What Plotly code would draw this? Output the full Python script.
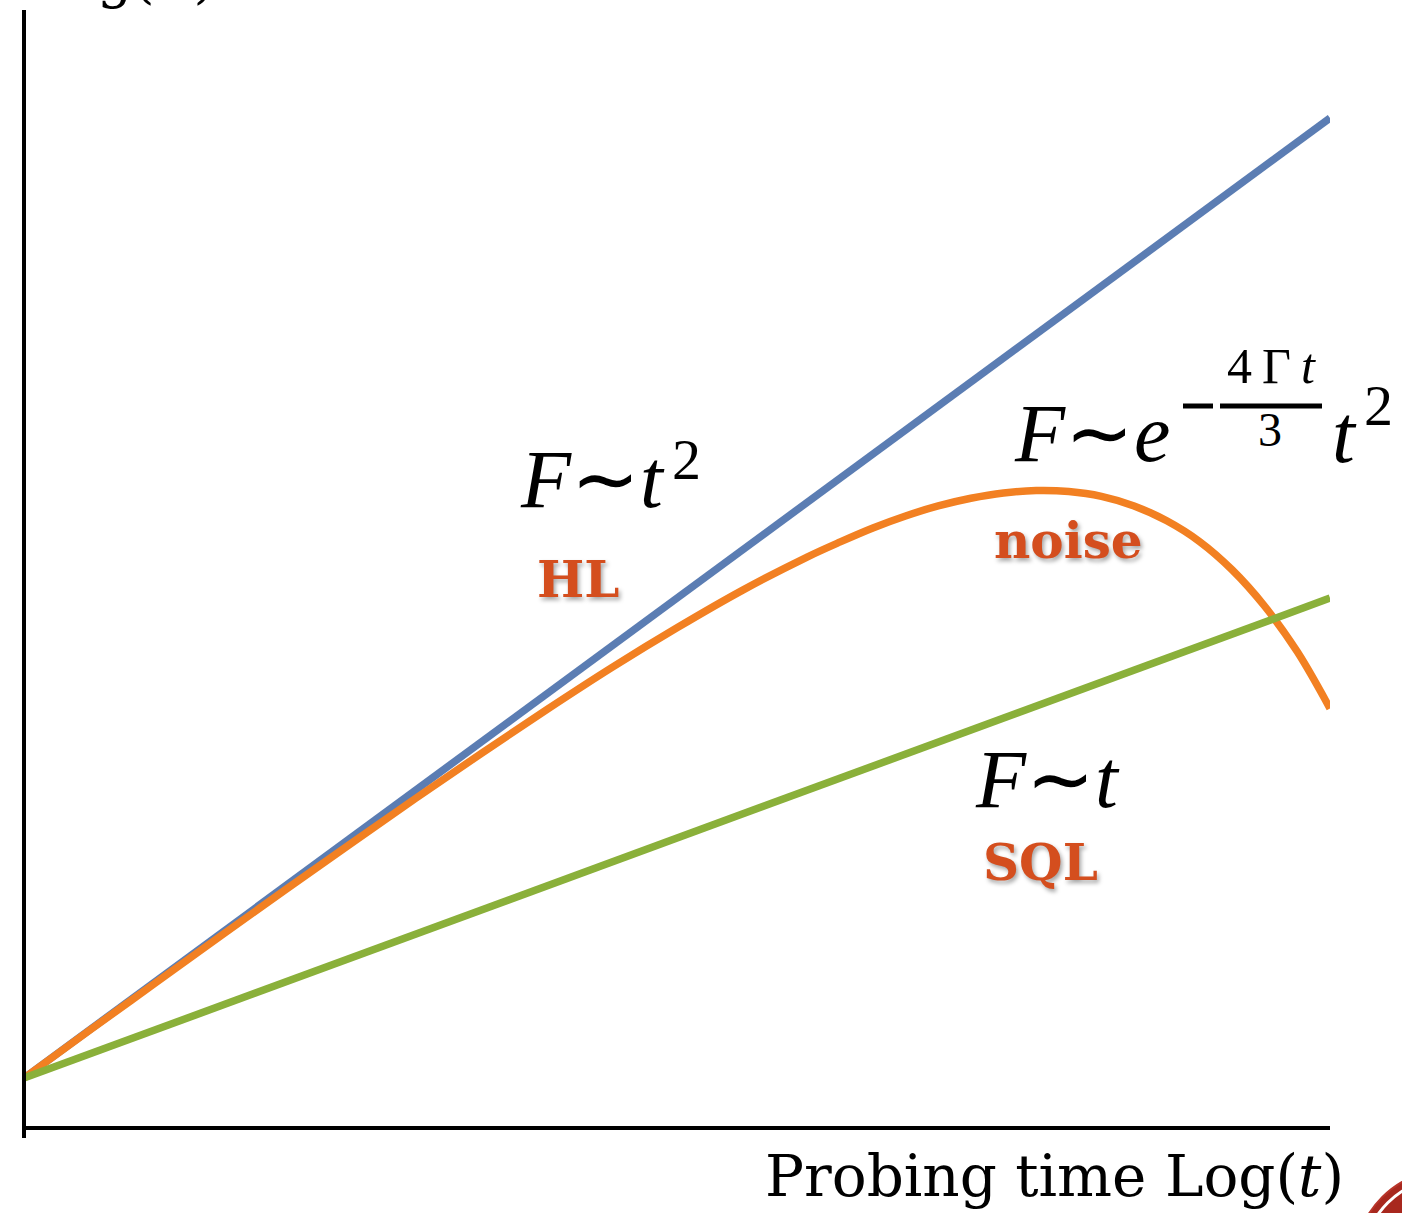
import plotly.graph_objects as go

# Log-log sketch of Fisher information vs probing time
log_t = [0, 10]
heisenberg_limit = [1.04, 21.04]        # F ~ t^2  (slope 2)
standard_quantum_limit = [1.04, 11.04]  # F ~ t    (slope 1)

noise_log_t = [0, 0.5, 1, 1.5, 2, 2.5, 3, 3.5, 4, 4.5, 5, 5.5, 6, 6.25, 6.5, 6.75, 7,
               7.25, 7.5, 7.75, 8, 8.25, 8.5, 8.75, 9, 9.25, 9.5, 9.75, 10]
noise_log_f = [1.04, 2.03, 3.01, 3.99, 4.96, 5.92, 6.87, 7.80, 8.71, 9.59, 10.42, 11.20,
               11.90, 12.21, 12.50, 12.75, 12.96, 13.12, 13.23, 13.28, 13.26, 13.16,
               12.96, 12.65, 12.22, 11.63, 10.87, 9.92, 8.74]

W, H = 1402, 1213
L, R, T, B = 24, 1330, 15, 1128  # plot area edges in page pixels

BLUE = "#5B7DB3"
ORANGE = "#F28022"
GREEN = "#8AB03A"
LABEL = "#D44E1E"
MATH_FONT = "Liberation Serif"
SLAB_FONT = "DejaVu Serif"
THIN = "\u2009"
TILDE = "\u223c"


def px(x):
    return (x - L) / (R - L)


def py(y):
    return (B - y) / (B - T)


fig = go.Figure()
fig.add_trace(go.Scatter(x=log_t, y=heisenberg_limit, mode="lines",
                         line=dict(color=BLUE, width=7.5)))
fig.add_trace(go.Scatter(x=noise_log_t, y=noise_log_f, mode="lines",
                         line=dict(color=ORANGE, width=7.5, shape="spline", smoothing=1)))
fig.add_trace(go.Scatter(x=log_t, y=standard_quantum_limit, mode="lines",
                         line=dict(color=GREEN, width=7.5)))

shapes = [
    # axes
    dict(type="line", xref="paper", yref="paper", x0=px(22), x1=px(1330), y0=py(1128), y1=py(1128),
         line=dict(color="black", width=4)),
    dict(type="line", xref="paper", yref="paper", x0=px(24), x1=px(24), y0=py(1138), y1=py(10),
         line=dict(color="black", width=4)),
    # minus sign and fraction bar in the exponent
    dict(type="line", xref="paper", yref="paper", x0=px(1183), x1=px(1213), y0=py(406), y1=py(406),
         line=dict(color="black", width=5)),
    dict(type="line", xref="paper", yref="paper", x0=px(1220), x1=px(1322), y0=py(406), y1=py(406),
         line=dict(color="black", width=5)),
    # corner emblem
    dict(type="circle", xref="paper", yref="paper", x0=px(1354), x1=px(1546), y0=py(1361), y1=py(1169),
         fillcolor="#A8281E", line=dict(color="#B8352A", width=2)),
    dict(type="circle", xref="paper", yref="paper", x0=px(1362), x1=px(1538), y0=py(1353), y1=py(1177),
         fillcolor="rgba(0,0,0,0)", line=dict(color="white", width=3)),
]

shadow = "2px 3px 4px rgba(0,0,0,0.35)"


def ann(text, x, y, size, family, color="black", xanchor="left", yanchor="bottom", label_shadow=False):
    font = dict(size=size, family=family, color=color)
    if label_shadow:
        font["shadow"] = shadow
    return dict(text=text, x=px(x), y=py(y), xref="paper", yref="paper",
                xanchor=xanchor, yanchor=yanchor, showarrow=False, font=font)


annotations = [
    ann("Log(<i>F</i>)", 24, 12, 56, SLAB_FONT),
    ann("Probing time Log(<i>t</i>)", 1346, 1212, 58, SLAB_FONT, xanchor="right"),
    # Heisenberg limit
    ann(f"<i>F</i>{TILDE}<i>t</i>", 518, 527, 82, MATH_FONT),
    ann("2", 670, 494, 58, MATH_FONT),
    ann("<b>HL</b>", 578, 611, 50, SLAB_FONT, LABEL, xanchor="center", label_shadow=True),
    # standard quantum limit
    ann(f"<i>F</i>{TILDE}<i>t</i>", 973, 827, 82, MATH_FONT),
    ann("<b>SQL</b>", 1040, 894, 50, SLAB_FONT, LABEL, xanchor="center", label_shadow=True),
    # decohered scaling
    ann(f"<i>F</i>{TILDE}<i>e</i>", 1012, 481, 82, MATH_FONT),
    ann(f"4{THIN}Γ{THIN}<i>t</i>", 1271, 396, 50, MATH_FONT, xanchor="center"),
    ann("3", 1270, 458, 48, MATH_FONT, xanchor="center"),
    ann("<i>t</i>", 1330, 482, 82, MATH_FONT),
    ann("2", 1362, 440, 58, MATH_FONT),
    ann("<b>noise</b>", 1068, 572, 50, SLAB_FONT, LABEL, xanchor="center", label_shadow=True),
]

fig.update_layout(
    width=W, height=H,
    margin=dict(l=L, r=W - R, t=T, b=H - B, pad=0),
    paper_bgcolor="white", plot_bgcolor="white",
    showlegend=False,
    xaxis=dict(range=[0, 10], visible=False, fixedrange=True),
    yaxis=dict(range=[0, (B - T) / 48], visible=False, fixedrange=True),
    shapes=shapes,
    annotations=annotations,
)

fig.write_html("out.html", config={"displayModeBar": False})
